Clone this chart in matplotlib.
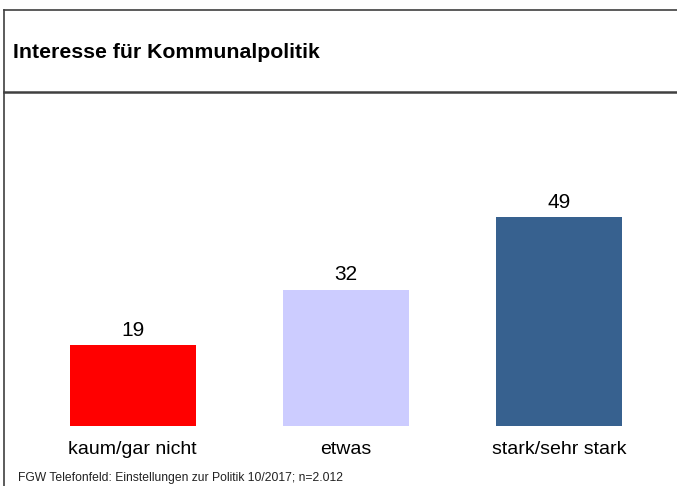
import matplotlib.pyplot as plt
from matplotlib.lines import Line2D

categories = ["kaum/gar nicht", "etwas", "stark/sehr stark"]
values = [19, 32, 49]
colors = ["#FF0000", "#CCCCFF", "#37618F"]

plt.rcParams['font.family'] = ['Liberation Sans', 'DejaVu Sans']

W, H = 677, 486
fig = plt.figure(figsize=(W / 100, H / 100), dpi=100)

# axes placed in pixel coordinates
left, right, bottom, top = 26, 666, 426, 100
ax = fig.add_axes([left / W, 1 - bottom / H, (right - left) / W, (bottom - top) / H])
x = range(len(categories))
bars = ax.bar(x, values, width=0.59, color=colors)
ax.set_xlim(-0.5, 2.5)
ax.set_ylim(0, (bottom - top) / 4.26)
for b, v in zip(bars, values):
    ax.annotate(str(v), (b.get_x() + b.get_width() / 2, v), xytext=(0, 4),
                textcoords="offset points", ha="center", va="bottom", fontsize=15)
ax.set_xticks(list(x))
ax.set_xticklabels(categories, fontsize=14)
ax.tick_params(axis="x", length=0, pad=11)
ax.set_yticks([])
for s in ax.spines.values():
    s.set_visible(False)

# frame lines
line_col = "#404040"
fig.add_artist(Line2D([4 / W, 4 / W], [0, 1 - 10 / H], color=line_col, lw=1.2))
fig.add_artist(Line2D([4 / W, 1], [1 - 10 / H, 1 - 10 / H], color=line_col, lw=1.2))
fig.add_artist(Line2D([4 / W, 1], [1 - 92 / H, 1 - 92 / H], color=line_col, lw=1.8))

fig.text(13 / W, 1 - 52 / H, "Interesse für Kommunalpolitik", fontsize=15.3,
         fontweight="bold", va="center", ha="left")
fig.text(18 / W, 1 - 478 / H, "FGW Telefonfeld: Einstellungen zur Politik 10/2017; n=2.012",
         fontsize=8.7, va="center", ha="left", color="#222222")

fig.savefig("out.png", dpi=100)
